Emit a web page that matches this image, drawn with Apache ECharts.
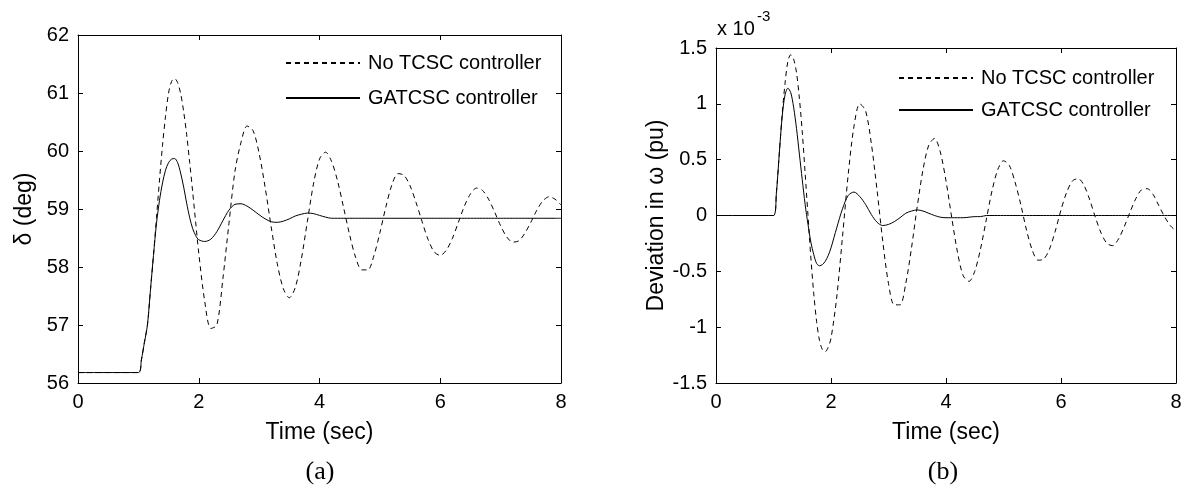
<!DOCTYPE html>
<html>
<head>
<meta charset="utf-8">
<script src="https://cdn.jsdelivr.net/npm/echarts@6/dist/echarts.min.js"></script>
<style>
html,body{margin:0;padding:0;background:#fff;}
#chart{width:1187px;height:489px;}
</style>
</head>
<body>
<div id="chart"></div>
<script>
// ---- data ----
var seriesNames = ['No TCSC controller', 'GATCSC controller'];
var xTicks = [0, 2, 4, 6, 8];
var yTicksA = [56, 57, 58, 59, 60, 61, 62];
var yTicksB = [-1.5, -1, -0.5, 0, 0.5, 1, 1.5];

var time = [0, 1, 1.05, 1.1, 1.15, 1.2, 1.25, 1.3, 1.35, 1.4, 1.45, 1.5, 1.55, 1.6, 1.65, 1.7, 1.75, 1.8, 1.85, 1.9, 1.95, 2,
  2.1, 2.2, 2.3, 2.4, 2.5, 2.6, 2.7, 2.8, 2.9, 3, 3.1, 3.2, 3.3, 3.4, 3.5, 3.6, 3.7, 3.8, 3.9, 4,
  4.1, 4.2, 4.3, 4.4, 4.5, 4.6, 4.7, 4.8, 4.9, 5, 5.1, 5.2, 5.3, 5.4, 5.5, 5.6, 5.7, 5.8, 5.9, 6,
  6.1, 6.2, 6.3, 6.4, 6.5, 6.6, 6.7, 6.8, 6.9, 7, 7.1, 7.2, 7.3, 7.4, 7.5, 7.6, 7.7, 7.8, 7.9, 8];

// (a) rotor angle delta, deg
var deltaNoTCSC = [56.18, 56.18, 56.4, 56.7, 57.0, 57.6, 58.2, 58.85, 59.5, 60.1, 60.6, 61.0, 61.2, 61.25, 61.18, 60.99, 60.68, 60.28, 59.8, 59.29, 58.76, 58.24,
  57.4, 56.94, 57.0, 57.8, 58.75, 59.65, 60.15, 60.43, 60.35, 59.96, 59.37, 58.69, 58.06, 57.63, 57.47, 57.65, 58.14, 58.79, 59.43, 59.86,
  59.98, 59.82, 59.48, 59.02, 58.55, 58.16, 57.95, 57.95, 58.19, 58.59, 59.04, 59.42, 59.61, 59.58, 59.4, 59.11, 58.78, 58.47, 58.26, 58.2,
  58.29, 58.49, 58.77, 59.05, 59.26, 59.36, 59.32, 59.17, 58.95, 58.71, 58.52, 58.43, 58.45, 58.58, 58.77, 58.98, 59.14, 59.21, 59.17, 59.07];
var deltaGATCSC = [56.18, 56.18, 56.4, 56.7, 57.0, 57.6, 58.2, 58.75, 59.15, 59.45, 59.67, 59.8, 59.86, 59.87, 59.8, 59.62, 59.38, 59.1, 58.85, 58.66, 58.54, 58.47,
  58.44, 58.48, 58.61, 58.8, 58.98, 59.08, 59.09, 59.05, 58.98, 58.9, 58.83, 58.78, 58.77, 58.79, 58.83, 58.88, 58.91, 58.93, 58.92, 58.89,
  58.86, 58.84, 58.84, 58.84, 58.84, 58.84, 58.84, 58.84, 58.84, 58.84, 58.84, 58.84, 58.84, 58.84, 58.84, 58.84, 58.84, 58.84, 58.84, 58.84,
  58.84, 58.84, 58.84, 58.84, 58.84, 58.84, 58.84, 58.84, 58.84, 58.84, 58.84, 58.84, 58.84, 58.84, 58.84, 58.84, 58.84, 58.84, 58.84, 58.84];

// (b) speed deviation, pu x 10^-3
var omegaNoTCSC = [0, 0, 0.2, 0.55, 0.9, 1.18, 1.38, 1.44, 1.4, 1.28, 1.05, 0.75, 0.38, 0.0, -0.38, -0.7, -0.95, -1.12, -1.2, -1.22, -1.18, -1.1,
  -0.73, -0.19, 0.37, 0.8, 1.0, 0.94, 0.65, 0.23, -0.23, -0.61, -0.8, -0.8, -0.61, -0.29, 0.08, 0.41, 0.63, 0.69, 0.57, 0.31,
  -0.02, -0.33, -0.54, -0.59, -0.5, -0.3, -0.04, 0.22, 0.41, 0.49, 0.45, 0.3, 0.1, -0.13, -0.31, -0.4, -0.39, -0.3, -0.14, 0.05,
  0.21, 0.31, 0.33, 0.27, 0.14, -0.02, -0.16, -0.25, -0.27, -0.21, -0.1, 0.03, 0.15, 0.23, 0.24, 0.19, 0.09, -0.01, -0.09, -0.14];
var omegaGATCSC = [0, 0, 0.2, 0.55, 0.88, 1.08, 1.14, 1.1, 0.97, 0.78, 0.55, 0.32, 0.1, -0.08, -0.24, -0.35, -0.43, -0.45, -0.44, -0.41, -0.36, -0.29,
  -0.11, 0.06, 0.18, 0.21, 0.17, 0.1, 0.01, -0.06, -0.09, -0.08, -0.055, -0.02, 0.02, 0.04, 0.05, 0.04, 0.02, 0.0, -0.015, -0.02,
  -0.02, -0.02, -0.02, -0.015, -0.01, -0.01, 0, 0, 0, 0, 0, 0, 0, 0, 0, 0, 0, 0, 0, 0,
  0, 0, 0, 0, 0, 0, 0, 0, 0, 0, 0, 0, 0, 0, 0, 0, 0, 0, 0, 0];

// ---- chart ----
function pairs(xs, ys) { return xs.map(function (x, i) { return [x, ys[i]]; }); }

var FONT = "'Liberation Sans', Arial, sans-serif";
var grids = [
  { left: 78, top: 35, width: 483, height: 348 },
  { left: 716, top: 48, width: 460, height: 335 }
];

function baseAxis(extra) {
  var a = {
    axisLine: { show: true, onZero: false, lineStyle: { color: '#000', width: 1 } },
    axisTick: { show: true, inside: true, length: 5, lineStyle: { color: '#000', width: 1 } },
    splitLine: { show: false },
    axisLabel: { color: '#000', fontSize: 20, fontFamily: FONT, margin: 9 },
    nameTextStyle: { color: '#000', fontSize: 23, fontFamily: FONT }
  };
  for (var k in extra) a[k] = extra[k];
  return a;
}

var xMin = xTicks[0], xMax = xTicks[xTicks.length - 1], xInt = xTicks[1] - xTicks[0];
var xAxes = [
  baseAxis({ type: 'value', gridIndex: 0, min: xMin, max: xMax, interval: xInt, position: 'bottom',
    name: 'Time (sec)', nameLocation: 'middle', nameGap: 38 }),
  baseAxis({ type: 'value', gridIndex: 1, min: xMin, max: xMax, interval: xInt, position: 'bottom',
    name: 'Time (sec)', nameLocation: 'middle', nameGap: 38 }),
  baseAxis({ type: 'value', gridIndex: 0, min: xMin, max: xMax, interval: xInt, position: 'top', axisLabel: { show: false } }),
  baseAxis({ type: 'value', gridIndex: 1, min: xMin, max: xMax, interval: xInt, position: 'top', axisLabel: { show: false } })
];
var yAxes = [
  baseAxis({ type: 'value', gridIndex: 0, min: yTicksA[0], max: yTicksA[yTicksA.length - 1], interval: 1, position: 'left',
    name: 'δ (deg)', nameLocation: 'middle', nameGap: 42 }),
  baseAxis({ type: 'value', gridIndex: 1, min: yTicksB[0], max: yTicksB[yTicksB.length - 1], interval: 0.5, position: 'left',
    name: 'Deviation in ω (pu)', nameLocation: 'middle', nameGap: 42 }),
  baseAxis({ type: 'value', gridIndex: 0, min: yTicksA[0], max: yTicksA[yTicksA.length - 1], interval: 1, position: 'right', axisLabel: { show: false } }),
  baseAxis({ type: 'value', gridIndex: 1, min: yTicksB[0], max: yTicksB[yTicksB.length - 1], interval: 0.5, position: 'right', axisLabel: { show: false } })
];

var dashStyle = { color: '#000', width: 1, type: [5, 4] };
var solidStyle = { color: '#000', width: 1, type: 'solid' };

function mkSeries(name, xi, data, style) {
  return { type: 'line', name: name, xAxisIndex: xi, yAxisIndex: xi, data: data, showSymbol: false, symbol: 'none',
    smooth: 0.3, lineStyle: style, itemStyle: { color: '#000' }, silent: true };
}

function legendAt(left, top, gap) {
  return {
    orient: 'vertical', left: left, top: top, itemWidth: 74, itemHeight: 14, itemGap: gap,
    itemStyle: { opacity: 0 },
    textStyle: { color: '#000', fontSize: 20, fontFamily: FONT, lineHeight: 20, padding: [0, 0, 0, 3] },
    data: seriesNames.slice()
  };
}

var option = {
  animation: false,
  backgroundColor: '#fff',
  grid: grids,
  xAxis: xAxes,
  yAxis: yAxes,
  legend: [legendAt(280, 48, 15), legendAt(893, 63, 12)],
  series: [
    mkSeries(seriesNames[0], 0, pairs(time, deltaNoTCSC), dashStyle),
    mkSeries(seriesNames[1], 0, pairs(time, deltaGATCSC), solidStyle),
    mkSeries(seriesNames[0], 1, pairs(time, omegaNoTCSC), dashStyle),
    mkSeries(seriesNames[1], 1, pairs(time, omegaGATCSC), solidStyle)
  ],
  graphic: [
    { type: 'text', left: 717, top: 19, style: { text: 'x 10', fill: '#000', font: '20px ' + FONT } },
    { type: 'text', left: 757, top: 9, style: { text: '-3', fill: '#000', font: '15px ' + FONT } },
    { type: 'text', x: 320, y: 472, style: { text: '(a)', fill: '#000', font: '26px "Liberation Serif", "Times New Roman", serif', textAlign: 'center', textVerticalAlign: 'middle' } },
    { type: 'text', x: 943, y: 472, style: { text: '(b)', fill: '#000', font: '26px "Liberation Serif", "Times New Roman", serif', textAlign: 'center', textVerticalAlign: 'middle' } }
  ]
};

var chart = echarts.init(document.getElementById('chart'), null, { renderer: 'canvas' });
chart.setOption(option);
</script>
</body>
</html>
